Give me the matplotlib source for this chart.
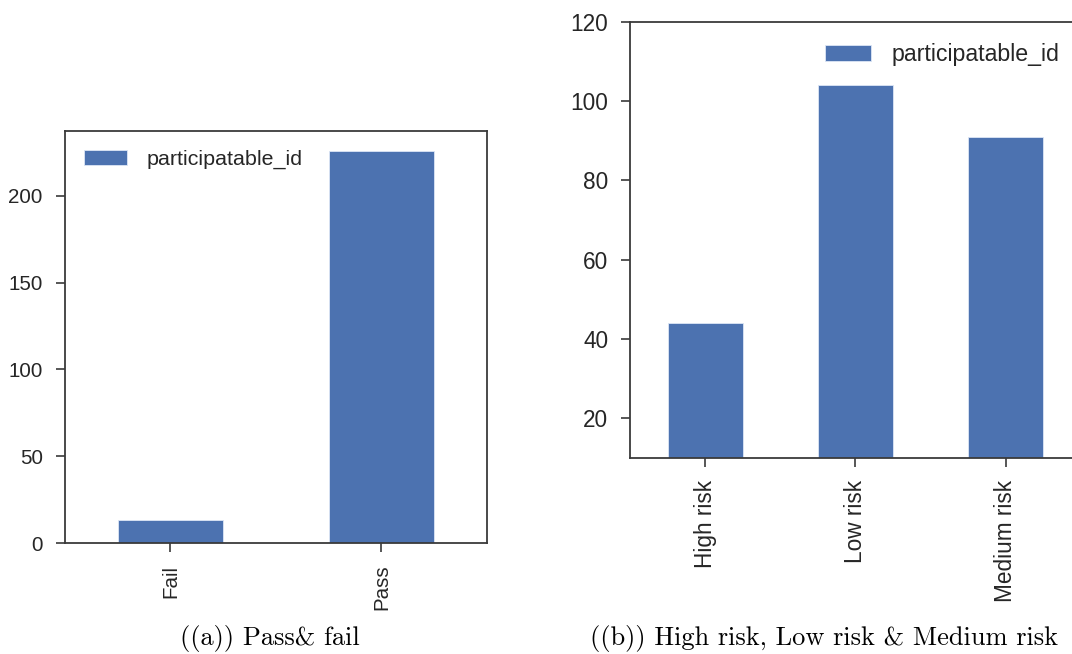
import matplotlib.pyplot as plt

# counts of participatable_id per group
pass_fail_labels = ["Fail", "Pass"]
pass_fail_counts = [13, 226]

risk_labels = ["High risk", "Low risk", "Medium risk"]
risk_counts = [44, 104, 91]

legend_label = "participatable_id"
caption_a = "((a)) Pass& fail"
caption_b = "((b)) High risk, Low risk & Medium risk"

BAR_COLOR = "#4C72B0"
INK = "#262626"
SPINE = "#3a3a3a"

plt.rcParams["font.family"] = ["Liberation Sans", "DejaVu Sans"]

fig = plt.figure(figsize=(10.72, 6.54), dpi=100)


def style_axes(ax, tick_size, tick_pad_y, tick_pad_x):
    for side in ["left", "right", "top", "bottom"]:
        ax.spines[side].set_color(SPINE)
        ax.spines[side].set_linewidth(1.3)
    ax.tick_params(axis="both", direction="out", length=6.5, width=1.2,
                   color=SPINE, labelcolor=INK, labelsize=tick_size)
    ax.tick_params(axis="y", pad=tick_pad_y)
    ax.tick_params(axis="x", pad=tick_pad_x, labelrotation=90)


# (a) pass / fail
ax1 = fig.add_axes([0.0606, 0.1697, 0.3937, 0.630])
ax1.bar(range(len(pass_fail_counts)), pass_fail_counts, width=0.5,
        color=BAR_COLOR, edgecolor="#dce6f5", linewidth=0.6, label=legend_label)
ax1.set_xticks(range(len(pass_fail_labels)))
ax1.set_xticklabels(pass_fail_labels)
ax1.set_xlim(-0.5, len(pass_fail_counts) - 0.5)
ax1.set_ylim(0, max(pass_fail_counts) * 1.05)
ax1.set_yticks([0, 50, 100, 150, 200])
style_axes(ax1, 14.8, 9.5, 9)
ax1.legend(loc="upper left", frameon=False, fontsize=15.4,
           handlelength=2.0, handletextpad=0.9, labelcolor=INK)

# (b) risk groups
ax2 = fig.add_axes([0.5877, 0.3001, 0.4204, 0.6662])
ax2.bar(range(len(risk_counts)), risk_counts, width=0.5,
        color=BAR_COLOR, edgecolor="#dce6f5", linewidth=0.6, label=legend_label)
ax2.set_xticks(range(len(risk_labels)))
ax2.set_xticklabels(risk_labels)
ax2.set_xlim(-0.5, len(risk_counts) - 0.5)
ax2.set_ylim(10, 120)
ax2.set_yticks([20, 40, 60, 80, 100, 120])
style_axes(ax2, 16.3, 9, 9.5)
ax2.legend(loc="upper right", frameon=False, fontsize=16.7,
           handlelength=2.0, handletextpad=0.9, labelcolor=INK)

# subfigure captions
fig.text(270 / 1072, 9 / 654, caption_a, family="cmr10", fontsize=19,
         ha="center", va="baseline", color="black")
fig.text(824 / 1072, 9 / 654, caption_b, family="cmr10", fontsize=19,
         ha="center", va="baseline", color="black")

fig.savefig("out.png", dpi=100)
